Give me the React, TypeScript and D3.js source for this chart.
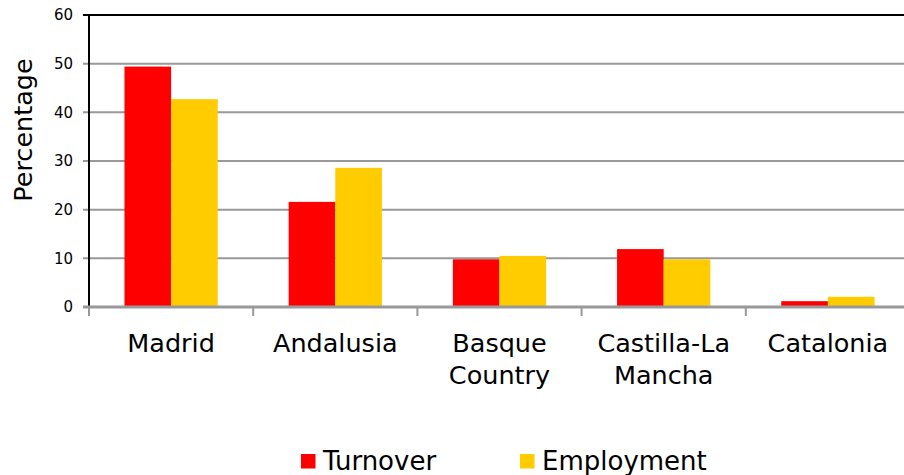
import React from "react";
import * as d3 from "d3";

const categories: string[][] = [
  ["Madrid"],
  ["Andalusia"],
  ["Basque", "Country"],
  ["Castilla-La", "Mancha"],
  ["Catalonia"],
];
const turnover = [49.4, 21.6, 9.8, 11.9, 1.2];
const employment = [42.7, 28.6, 10.5, 9.8, 2.1];
const yTicks = [0, 10, 20, 30, 40, 50, 60];
const seriesNames = ["Turnover", "Employment"];
const seriesColors = ["#FF0000", "#FFCC00"];

const W = 904;
const H = 475;
const left = 89;
const right = 910;
const top = 15;
const bottom = 307;
const FONT = "'DejaVu Sans', Verdana, sans-serif";

export default function App() {
  const x = d3
    .scaleBand<number>()
    .domain(categories.map((_, i) => i))
    .range([left, right])
    .padding(0);
  const y = d3.scaleLinear().domain([0, 60]).range([bottom, top]);
  const bw = x.bandwidth();
  const barW = bw * 0.284;
  const series = [turnover, employment];

  return (
    <svg
      width={W}
      height={H}
      style={{ position: "absolute", left: 0, top: 0, background: "#fff" }}
      fontFamily={FONT}
    >
      <rect x={0} y={0} width={W} height={H} fill="#fff" />
      {/* gridlines */}
      {yTicks.filter((t) => t > 0 && t < 60).map((t) => (
        <line
          key={"g" + t}
          x1={83}
          x2={right}
          y1={y(t)}
          y2={y(t)}
          stroke="#999"
          strokeWidth={2}
        />
      ))}
      {/* top border */}
      <line x1={83} x2={right} y1={y(60)} y2={y(60)} stroke="#000" strokeWidth={2} />
      {/* bars */}
      {categories.map((_, i) =>
        series.map((s, j) => (
          <rect
            key={`b${i}-${j}`}
            x={(x(i) as number) + bw / 2 - barW + j * barW}
            y={y(s[i])}
            width={barW}
            height={y(0) - y(s[i])}
            fill={seriesColors[j]}
          />
        ))
      )}
      {/* left axis */}
      <line x1={left} x2={left} y1={top - 1} y2={bottom} stroke="#000" strokeWidth={2} />
      {/* bottom axis */}
      <line x1={83} x2={right} y1={bottom} y2={bottom} stroke="#999" strokeWidth={3} />
      {/* category ticks */}
      {categories.map((_, i) => (
        <line
          key={"ct" + i}
          x1={x(i) as number}
          x2={x(i) as number}
          y1={bottom}
          y2={bottom + 9}
          stroke="#999"
          strokeWidth={2}
        />
      ))}
      {/* y tick labels */}
      {yTicks.map((t) => (
        <text
          key={"yt" + t}
          x={73}
          y={y(t)}
          dy="0.36em"
          textAnchor="end"
          fontSize={15}
          fill="#000"
        >
          {t}
        </text>
      ))}
      {/* y axis title */}
      <text
        transform={`translate(32, 130) rotate(-90)`}
        textAnchor="middle"
        fontSize={25.5}
        fill="#000"
      >
        Percentage
      </text>
      {/* category labels */}
      {categories.map((lines, i) => (
        <text
          key={"cl" + i}
          x={(x(i) as number) + bw / 2}
          y={352}
          textAnchor="middle"
          fontSize={25.5}
          fill="#000"
        >
          {lines.map((l, k) => (
            <tspan key={k} x={(x(i) as number) + bw / 2} dy={k === 0 ? 0 : 32}>
              {l}
            </tspan>
          ))}
        </text>
      ))}
      {/* legend */}
      {seriesNames.map((n, j) => {
        const lx = j === 0 ? 301 : 520;
        return (
          <g key={"lg" + j}>
            <rect x={lx} y={454} width={14.5} height={14.5} fill={seriesColors[j]} />
            <text x={lx + 22} y={469.5} fontSize={26} fill="#000">
              {n}
            </text>
          </g>
        );
      })}
    </svg>
  );
}
